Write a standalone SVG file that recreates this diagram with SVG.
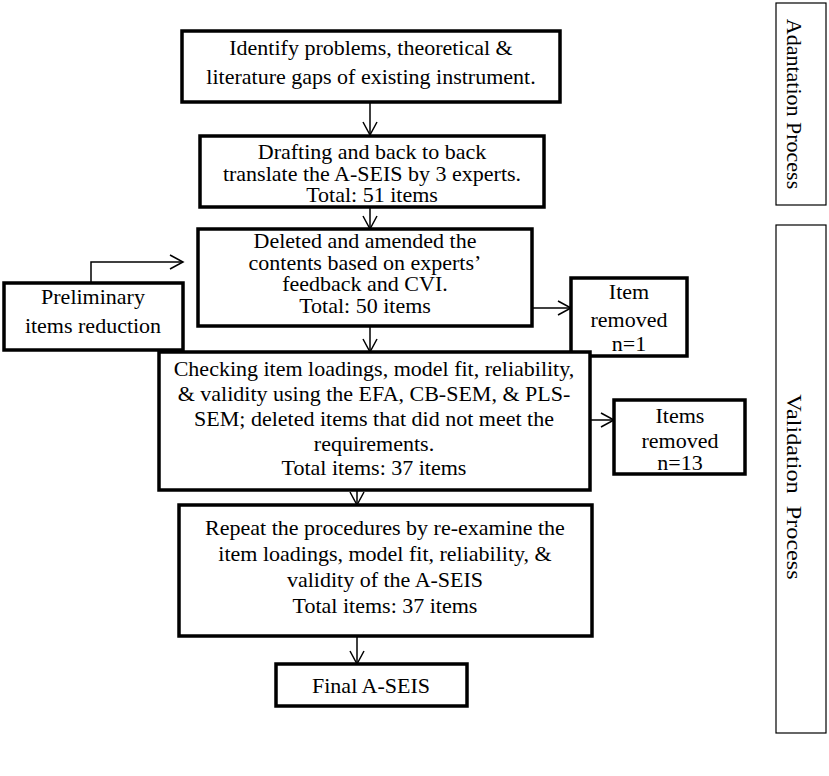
<svg xmlns="http://www.w3.org/2000/svg" width="829" height="776" viewBox="0 0 829 776">
<defs>
<marker id="arr" markerUnits="userSpaceOnUse" markerWidth="16" markerHeight="16" refX="14" refY="8" orient="auto">
<path d="M1,1 L14,8 L1,15" fill="none" stroke="#000" stroke-width="1.5"/>
</marker>
<style>
.box{fill:#fff;stroke:#000;stroke-width:3.5}
.lab{fill:#fff;stroke:#000;stroke-width:1.2}
.t{font-family:"Liberation Serif","Times New Roman",serif;font-size:22px;fill:#000;text-anchor:middle}
.c{fill:none;stroke:#000;stroke-width:1.5;marker-end:url(#arr)}
</style>
</defs>
<rect width="829" height="776" fill="#fff"/>
<g id="connectors">
<path class="c" d="M370,102 V135"/>
<path class="c" d="M370,207 V229"/>
<path class="c" d="M91,283 V262 H183"/>
<path class="c" d="M532,308 H571"/>
<path class="c" d="M370,326 V352"/>
<path class="c" d="M590,420 H614"/>
<path class="c" d="M357,490 V505"/>
<path class="c" d="M357,636 V664"/>
</g>
<g id="n1"><rect class="box" x="182" y="31" width="378" height="71"/>
<text class="t"><tspan x="371" y="55">Identify problems, theoretical &amp;</tspan><tspan x="371" y="84">literature gaps of existing instrument.</tspan></text></g>
<g id="n2"><rect class="box" x="200" y="136" width="344" height="71"/>
<text class="t"><tspan x="372" y="159">Drafting and back to back</tspan><tspan x="372" y="181">translate the A-SEIS by 3 experts.</tspan><tspan x="372" y="202">Total: 51 items</tspan></text></g>
<g id="n3"><rect class="box" x="198" y="229" width="334" height="97"/>
<text class="t"><tspan x="365" y="248">Deleted and amended the</tspan><tspan x="365" y="270">contents based on experts’</tspan><tspan x="365" y="291">feedback and CVI.</tspan><tspan x="365" y="313">Total: 50 items</tspan></text></g>
<g id="n_prelim"><rect class="box" x="4" y="283" width="179" height="67"/>
<text class="t"><tspan x="93" y="304">Preliminary</tspan><tspan x="93" y="333">items reduction</tspan></text></g>
<g id="n_rem1"><rect class="box" x="571" y="278" width="116" height="78"/>
<text class="t"><tspan x="629" y="299">Item</tspan><tspan x="629" y="327">removed</tspan><tspan x="629" y="351">n=1</tspan></text></g>
<g id="n4"><rect class="box" x="159" y="352" width="431" height="138"/>
<text class="t"><tspan x="374" y="376">Checking item loadings, model fit, reliability,</tspan><tspan x="374" y="401">&amp; validity using the EFA, CB-SEM, &amp; PLS-</tspan><tspan x="374" y="426">SEM; deleted items that did not meet the</tspan><tspan x="374" y="451">requirements.</tspan><tspan x="374" y="475">Total items: 37 items</tspan></text></g>
<g id="n_rem2"><rect class="box" x="614" y="400" width="131" height="74"/>
<text class="t"><tspan x="680" y="423">Items</tspan><tspan x="680" y="448">removed</tspan><tspan x="680" y="470">n=13</tspan></text></g>
<g id="n5"><rect class="box" x="179" y="505" width="413" height="131"/>
<text class="t"><tspan x="385" y="535">Repeat the procedures by re-examine the</tspan><tspan x="385" y="561">item loadings, model fit, reliability, &amp;</tspan><tspan x="385" y="587">validity of the A-SEIS</tspan><tspan x="385" y="613">Total items: 37 items</tspan></text></g>
<g id="n_final"><rect class="box" x="276" y="664" width="191" height="42"/>
<text class="t" x="371" y="693">Final A-SEIS</text></g>
<g id="lab_adapt"><rect class="lab" x="776" y="3" width="50" height="202"/>
<text class="t" transform="translate(787,104) rotate(90)" x="0" y="0">Adantation Process</text></g>
<g id="lab_valid"><rect class="lab" x="776" y="225" width="50" height="508"/>
<text class="t" transform="translate(787,487) rotate(90) scale(1.1,1)" x="0" y="0" xml:space="preserve">Validation  Process</text></g>
</svg>
